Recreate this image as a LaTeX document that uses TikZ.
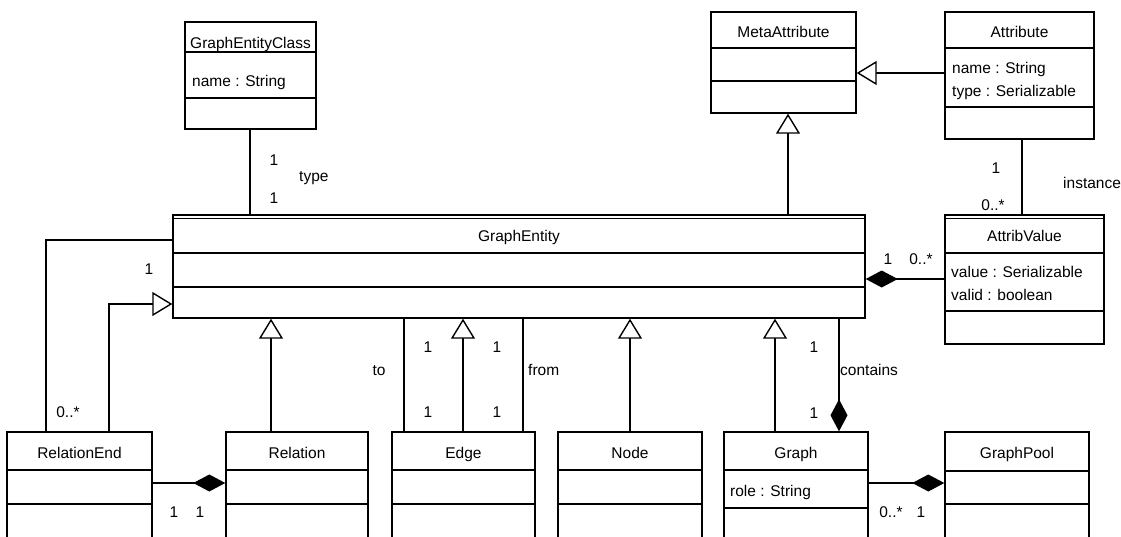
\documentclass[tikz,border=0pt]{standalone}
\usepackage{fontspec}
\setmainfont{Liberation Sans}
\usetikzlibrary{arrows.meta,fit}

\tikzset{
  classbox/.style={draw, line width=1.4pt, inner sep=0pt},
  rule/.style={line width=1.4pt},
  classname/.style={anchor=base, inner sep=0pt},
  member/.style={anchor=base west, inner sep=0pt},
  mult/.style={anchor=base, inner sep=0pt},
  rolename/.style={anchor=base west, inner sep=0pt},
  link/.style={line width=1.4pt},
  inherit/.style={link, -{Triangle[length=20pt, width=24pt, fill=white, line width=1.4pt]}},
  compose/.style={link, -{Diamond[length=32pt, width=17pt]}},
}

% class box: name, x1, y1, x2, y2, first rule, second rule, title, title baseline
\newcommand{\umlclass}[9]{%
  \node[classbox, fit={(#2,#3) (#4,#5)}] (#1) {};
  \node[classname] (#1-name) at ({(#2+#4)/2},#9) {#8};
  \draw[rule] (#2,#6) -- (#4,#6);
  \draw[rule] (#2,#7) -- (#4,#7);
}

\begin{document}
\begin{tikzpicture}[x=1pt, y=-1pt, font=\fontsize{15.5}{18}\selectfont]
\clip (0,0) rectangle (1121,536);
\fill[white] (0,0) rectangle (1121,536);

% classes
\umlclass{gec}{185}{22}{316}{129}{52}{98}{GraphEntityClass}{48}
\umlclass{meta}{711}{12}{856}{113}{48}{81}{MetaAttribute}{37}
\umlclass{attr}{945}{12}{1094}{139}{48}{107}{Attribute}{37}
\umlclass{ge}{173}{215}{865}{318}{253}{287}{GraphEntity}{241}
\umlclass{av}{945}{215}{1104}{344}{253}{311}{AttribValue}{241}
\umlclass{re}{7}{432}{152}{560}{470}{504}{RelationEnd}{458}
\umlclass{rel}{226}{432}{368}{560}{470}{504}{Relation}{458}
\umlclass{edgecls}{392}{432}{535}{560}{470}{504}{Edge}{458}
\umlclass{nd}{558}{432}{702}{560}{470}{504}{Node}{458}
\umlclass{graph}{724}{432}{868}{560}{470}{508}{Graph}{458}
\umlclass{pool}{945}{432}{1089}{560}{471}{504}{GraphPool}{458}

% doubled top edges
\draw[line width=0.9pt] (173,218.5) -- (865,218.5);
\draw[line width=0.9pt] (945,218.5) -- (1104,218.5);

% attributes
\node[member] (gec-a1) at (192,86) {name : String};
\node[member] (attr-a1) at (952,73) {name : String};
\node[member] (attr-a2) at (952,96) {type : Serializable};
\node[member] (av-a1) at (951,277) {value : Serializable};
\node[member] (av-a2) at (951,300) {valid : boolean};
\node[member] (graph-a1) at (730,496) {role : String};

% connector positions
\coordinate (typeX) at (250,0);
\coordinate (metaX) at (788,0);
\coordinate (instX) at (1022,0);
\coordinate (metaY) at (0,73);
\coordinate (valY) at (0,279);
\coordinate (endAssocY) at (0,240);
\coordinate (endAssocX) at (46,0);
\coordinate (endGenX) at (109,0);
\coordinate (endGenY) at (0,304);
\coordinate (relX) at (271,0);
\coordinate (toX) at (404,0);
\coordinate (edgeX) at (463,0);
\coordinate (fromX) at (523,0);
\coordinate (graphX) at (775,0);
\coordinate (containsX) at (839,0);
\coordinate (partY) at (0,483);

% connectors
\draw[link] (gec.south -| typeX) -- (ge.north -| typeX);
\draw[inherit] (attr.west |- metaY) -- (meta.east |- metaY);
\draw[inherit] (ge.north -| metaX) -- (meta.south -| metaX);
\draw[link] (attr.south -| instX) -- (av.north -| instX);
\draw[compose] (av.west |- valY) -- (ge.east |- valY);
\draw[link] (ge.west |- endAssocY) -| (re.north -| endAssocX);
\draw[inherit] (re.north -| endGenX) |- (ge.west |- endGenY);
\draw[inherit] (rel.north -| relX) -- (ge.south -| relX);
\draw[link] (edgecls.north -| toX) -- (ge.south -| toX);
\draw[inherit] (edgecls.north -| edgeX) -- (ge.south -| edgeX);
\draw[link] (edgecls.north -| fromX) -- (ge.south -| fromX);
\draw[inherit] (nd.north) -- (nd.north |- ge.south);
\draw[inherit] (graph.north -| graphX) -- (ge.south -| graphX);
\draw[compose] (ge.south -| containsX) -- (graph.north -| containsX);
\draw[compose] (re.east |- partY) -- (rel.west |- partY);
\draw[compose] (graph.east |- partY) -- (pool.west |- partY);

% multiplicities and role names
\node[mult] (m1) at (274,165) {1};
\node[mult] (m2) at (274,203) {1};
\node[rolename] (r1) at (299,181) {type};
\node[mult] (m3) at (996,173) {1};
\node[mult] (m4) at (993,210) {0..*};
\node[rolename] (r2) at (1063,188) {instance};
\node[mult] (m5) at (888,264) {1};
\node[mult] (m6) at (921,264) {0..*};
\node[mult] (m7) at (149,274) {1};
\node[mult] (m8) at (68,417) {0..*};
\node[mult] (m9) at (174,517) {1};
\node[mult] (m10) at (200,517) {1};
\node[mult] (m11) at (428,352) {1};
\node[mult] (m12) at (428,417) {1};
\node[mult] (m13) at (497,352) {1};
\node[mult] (m14) at (497,417) {1};
\node[mult] (r3) at (379,375) {to};
\node[rolename] (r4) at (528,375) {from};
\node[mult] (m15) at (814,352) {1};
\node[rolename] (r5) at (840,375) {contains};
\node[mult] (m16) at (814,418) {1};
\node[mult] (m17) at (891,517) {0..*};
\node[mult] (m18) at (921,517) {1};
\end{tikzpicture}
\end{document}
